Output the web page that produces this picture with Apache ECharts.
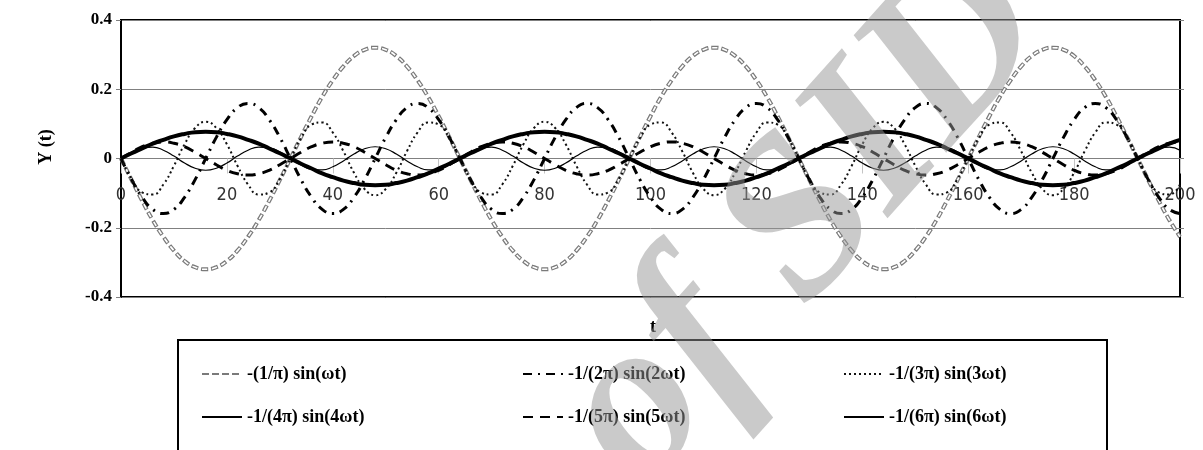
<!DOCTYPE html>
<html>
<head>
<meta charset="utf-8">
<script src="https://cdn.jsdelivr.net/npm/echarts@6/dist/echarts.min.js"></script>
<style>
html,body{margin:0;padding:0;background:#fff;}
#c{width:1203px;height:450px;}
</style>
</head>
<body>
<div id="c"></div>
<script>
// ---------- data ----------
const t = [
  0, 2, 4, 6, 8, 10, 12, 14, 16, 18, 20, 22, 24, 26, 28, 30,
  32, 34, 36, 38, 40, 42, 44, 46, 48, 50, 52, 54, 56, 58, 60, 62,
  64, 66, 68, 70, 72, 74, 76, 78, 80, 82, 84, 86, 88, 90, 92, 94,
  96, 98, 100, 102, 104, 106, 108, 110, 112, 114, 116, 118, 120, 122, 124, 126,
  128, 130, 132, 134, 136, 138, 140, 142, 144, 146, 148, 150, 152, 154, 156, 158,
  160, 162, 164, 166, 168, 170, 172, 174, 176, 178, 180, 182, 184, 186, 188, 190,
  192, 194, 196, 198, 200
];

// grey outlined dashes
const s1 = [
  0, -0.062, -0.122, -0.178, -0.226, -0.266, -0.296, -0.314, -0.32, -0.314, -0.296, -0.266, -0.226, -0.178, -0.122, -0.062,
  0, 0.062, 0.122, 0.178, 0.226, 0.266, 0.296, 0.314, 0.32, 0.314, 0.296, 0.266, 0.226, 0.178, 0.122, 0.062,
  0, -0.062, -0.122, -0.178, -0.226, -0.266, -0.296, -0.314, -0.32, -0.314, -0.296, -0.266, -0.226, -0.178, -0.122, -0.062,
  0, 0.062, 0.122, 0.178, 0.226, 0.266, 0.296, 0.314, 0.32, 0.314, 0.296, 0.266, 0.226, 0.178, 0.122, 0.062,
  0, -0.062, -0.122, -0.178, -0.226, -0.266, -0.296, -0.314, -0.32, -0.314, -0.296, -0.266, -0.226, -0.178, -0.122, -0.062,
  0, 0.062, 0.122, 0.178, 0.226, 0.266, 0.296, 0.314, 0.32, 0.314, 0.296, 0.266, 0.226, 0.178, 0.122, 0.062,
  0, -0.062, -0.122, -0.178, -0.226
];

// dash-dot
const s2 = [
  0, -0.061, -0.112, -0.147, -0.159, -0.147, -0.112, -0.061, 0, 0.061, 0.112, 0.147, 0.159, 0.147, 0.112, 0.061,
  0, -0.061, -0.112, -0.147, -0.159, -0.147, -0.112, -0.061, 0, 0.061, 0.112, 0.147, 0.159, 0.147, 0.112, 0.061,
  0, -0.061, -0.112, -0.147, -0.159, -0.147, -0.112, -0.061, 0, 0.061, 0.112, 0.147, 0.159, 0.147, 0.112, 0.061,
  0, -0.061, -0.112, -0.147, -0.159, -0.147, -0.112, -0.061, 0, 0.061, 0.112, 0.147, 0.159, 0.147, 0.112, 0.061,
  0, -0.061, -0.112, -0.147, -0.159, -0.147, -0.112, -0.061, 0, 0.061, 0.112, 0.147, 0.159, 0.147, 0.112, 0.061,
  0, -0.061, -0.112, -0.147, -0.159, -0.147, -0.112, -0.061, 0, 0.061, 0.112, 0.147, 0.159, 0.147, 0.112, 0.061,
  0, -0.061, -0.112, -0.147, -0.159
];

// dotted
const s3 = [
  0, -0.059, -0.098, -0.104, -0.075, -0.021, 0.041, 0.088, 0.106, 0.088, 0.041, -0.021, -0.075, -0.104, -0.098, -0.059,
  0, 0.059, 0.098, 0.104, 0.075, 0.021, -0.041, -0.088, -0.106, -0.088, -0.041, 0.021, 0.075, 0.104, 0.098, 0.059,
  0, -0.059, -0.098, -0.104, -0.075, -0.021, 0.041, 0.088, 0.106, 0.088, 0.041, -0.021, -0.075, -0.104, -0.098, -0.059,
  0, 0.059, 0.098, 0.104, 0.075, 0.021, -0.041, -0.088, -0.106, -0.088, -0.041, 0.021, 0.075, 0.104, 0.098, 0.059,
  0, -0.059, -0.098, -0.104, -0.075, -0.021, 0.041, 0.088, 0.106, 0.088, 0.041, -0.021, -0.075, -0.104, -0.098, -0.059,
  0, 0.059, 0.098, 0.104, 0.075, 0.021, -0.041, -0.088, -0.106, -0.088, -0.041, 0.021, 0.075, 0.104, 0.098, 0.059,
  0, -0.059, -0.098, -0.104, -0.075
];

// thick solid
const s4 = [
  0, 0.015, 0.029, 0.043, 0.054, 0.064, 0.071, 0.076, 0.077, 0.076, 0.071, 0.064, 0.054, 0.043, 0.029, 0.015,
  0, -0.015, -0.029, -0.043, -0.054, -0.064, -0.071, -0.076, -0.077, -0.076, -0.071, -0.064, -0.054, -0.043, -0.029, -0.015,
  0, 0.015, 0.029, 0.043, 0.054, 0.064, 0.071, 0.076, 0.077, 0.076, 0.071, 0.064, 0.054, 0.043, 0.029, 0.015,
  0, -0.015, -0.029, -0.043, -0.054, -0.064, -0.071, -0.076, -0.077, -0.076, -0.071, -0.064, -0.054, -0.043, -0.029, -0.015,
  0, 0.015, 0.029, 0.043, 0.054, 0.064, 0.071, 0.076, 0.077, 0.076, 0.071, 0.064, 0.054, 0.043, 0.029, 0.015,
  0, -0.015, -0.029, -0.043, -0.054, -0.064, -0.071, -0.076, -0.077, -0.076, -0.071, -0.064, -0.054, -0.043, -0.029, -0.015,
  0, 0.015, 0.029, 0.043, 0.054
];

// medium dashes
const s5 = [
  0, 0.018, 0.034, 0.044, 0.048, 0.044, 0.034, 0.018, 0, -0.018, -0.034, -0.044, -0.048, -0.044, -0.034, -0.018,
  0, 0.018, 0.034, 0.044, 0.048, 0.044, 0.034, 0.018, 0, -0.018, -0.034, -0.044, -0.048, -0.044, -0.034, -0.018,
  0, 0.018, 0.034, 0.044, 0.048, 0.044, 0.034, 0.018, 0, -0.018, -0.034, -0.044, -0.048, -0.044, -0.034, -0.018,
  0, 0.018, 0.034, 0.044, 0.048, 0.044, 0.034, 0.018, 0, -0.018, -0.034, -0.044, -0.048, -0.044, -0.034, -0.018,
  0, 0.018, 0.034, 0.044, 0.048, 0.044, 0.034, 0.018, 0, -0.018, -0.034, -0.044, -0.048, -0.044, -0.034, -0.018,
  0, 0.018, 0.034, 0.044, 0.048, 0.044, 0.034, 0.018, 0, -0.018, -0.034, -0.044, -0.048, -0.044, -0.034, -0.018,
  0, 0.018, 0.034, 0.044, 0.048
];

// thin solid
const s6 = [
  0, 0.019, 0.031, 0.033, 0.024, 0.007, -0.013, -0.028, -0.034, -0.028, -0.013, 0.007, 0.024, 0.033, 0.031, 0.019,
  0, -0.019, -0.031, -0.033, -0.024, -0.007, 0.013, 0.028, 0.034, 0.028, 0.013, -0.007, -0.024, -0.033, -0.031, -0.019,
  0, 0.019, 0.031, 0.033, 0.024, 0.007, -0.013, -0.028, -0.034, -0.028, -0.013, 0.007, 0.024, 0.033, 0.031, 0.019,
  0, -0.019, -0.031, -0.033, -0.024, -0.007, 0.013, 0.028, 0.034, 0.028, 0.013, -0.007, -0.024, -0.033, -0.031, -0.019,
  0, 0.019, 0.031, 0.033, 0.024, 0.007, -0.013, -0.028, -0.034, -0.028, -0.013, 0.007, 0.024, 0.033, 0.031, 0.019,
  0, -0.019, -0.031, -0.033, -0.024, -0.007, 0.013, 0.028, 0.034, 0.028, 0.013, -0.007, -0.024, -0.033, -0.031, -0.019,
  0, 0.019, 0.031, 0.033, 0.024
];

const seriesNames = [
  '-(1/π) sin(ωt)',
  '-1/(2π) sin(2ωt)',
  '-1/(3π) sin(3ωt)',
  '-1/(4π) sin(4ωt)',
  '-1/(5π) sin(5ωt)',
  '-1/(6π) sin(6ωt)'
];

const xTicks = [0, 20, 40, 60, 80, 100, 120, 140, 160, 180, 200];
const yTicks = [-0.4, -0.2, 0, 0.2, 0.4];
const xTitle = 't';
const yTitle = 'Y (t)';
const watermark = 'of SID';

// ---------- chart ----------
const chart = echarts.init(document.getElementById('c'), null, {renderer: 'canvas'});
const pairs = vals => t.map((x, i) => [x, vals[i]]);
const SERIF = '"Liberation Serif", "Times New Roman", serif';

const xMin = xTicks[0], xMax = xTicks[xTicks.length - 1], xStep = xTicks[1] - xTicks[0];
const yMin = yTicks[0], yMax = yTicks[yTicks.length - 1], yStep = yTicks[1] - yTicks[0];

// plot area in pixels
const PL = 121, PR = 23, PT = 20, PB = 153;
const plotH = 450 - PT - PB;
const zeroY = PT + plotH * (yMax / (yMax - yMin));   // pixel row of y = 0

function lineSeries(name, vals, color, width, type, extra) {
  return Object.assign({
    name: name,
    type: 'line',
    xAxisIndex: 0, yAxisIndex: 0,
    data: pairs(vals),
    symbol: 'none',
    smooth: true,
    animation: false,
    itemStyle: {color: color},
    lineStyle: {color: color, width: width, type: type, cap: 'butt'},
    emphasis: {disabled: true}
  }, extra || {});
}

const legendText = {fontFamily: SERIF, fontWeight: 'bold', fontSize: 18, color: '#000', lineHeight: 18};
function legendCol(left, names) {
  return {
    orient: 'vertical', left: left, top: 365, itemGap: 25,
    itemWidth: 40, itemHeight: 14, selectedMode: false,
    itemStyle: {opacity: 0},
    data: names, textStyle: legendText, padding: 0
  };
}

const option = {
  backgroundColor: '#fff',
  animation: false,
  grid: [
    {left: PL, top: PT, right: PR, bottom: PB, show: true, borderColor: '#000', borderWidth: 2, backgroundColor: 'transparent'},
    // helper grid whose bottom edge sits on y = 0, carrying the t axis
    {left: PL, top: PT, right: PR, bottom: 450 - zeroY, show: false}
  ],
  xAxis: [{
    gridIndex: 0, type: 'value', min: xMin, max: xMax, interval: xStep, show: false
  }, {
    gridIndex: 1, type: 'value', min: xMin, max: xMax, interval: xStep, position: 'bottom',
    axisLine: {show: true, onZero: false, lineStyle: {color: '#808080', width: 1}},
    axisTick: {show: true, inside: false, length: 15, lineStyle: {color: '#c4c4c4'}},
    axisLabel: {fontFamily: '"DejaVu Sans Condensed", "DejaVu Sans", sans-serif', fontSize: 18, color: '#333', margin: 28, showMinLabel: true, showMaxLabel: true},
    splitLine: {show: false}
  }],
  yAxis: [{
    gridIndex: 0, type: 'value', min: yMin, max: yMax, interval: yStep,
    axisLine: {show: true, lineStyle: {color: '#000', width: 2}},
    axisTick: {show: true, inside: false, length: 5, lineStyle: {color: '#808080'}},
    axisLabel: {fontFamily: SERIF, fontWeight: 'bold', fontSize: 17, color: '#000', margin: 9,
      formatter: v => String(Math.round(v * 10) / 10)},
    splitLine: {show: true, lineStyle: {color: '#808080', width: 1}}
  }, {
    gridIndex: 0, type: 'value', position: 'right', min: yMin, max: yMax, interval: yStep,
    axisLine: {show: false},
    axisTick: {show: true, inside: false, length: 4, lineStyle: {color: '#808080'}},
    axisLabel: {show: false},
    splitLine: {show: false}
  }, {
    gridIndex: 1, type: 'value', min: 0, max: yMax, show: false
  }],
  legend: [
    legendCol(201, [seriesNames[0], seriesNames[3]]),
    legendCol(522, [seriesNames[1], seriesNames[4]]),
    legendCol(843, [seriesNames[2], seriesNames[5]])
  ],
  series: [
    lineSeries(seriesNames[0], s1, '#7a7a7a', 4, [7, 3], {z: 2}),
    lineSeries('inner', s1, '#ffffff', 1.6, [5, 5], {z: 3, silent: true, lineStyle: {color: '#ffffff', width: 1.6, type: [5, 5], dashOffset: -1}}),
    lineSeries(seriesNames[1], s2, '#000', 3, [9, 6, 2, 6], {z: 4}),
    lineSeries(seriesNames[2], s3, '#111', 2, [2, 3], {z: 4}),
    lineSeries(seriesNames[3], s4, '#000', 4, 'solid', {z: 5}),
    lineSeries(seriesNames[4], s5, '#000', 3, [10, 7], {z: 4}),
    lineSeries(seriesNames[5], s6, '#000', 1.2, 'solid', {z: 5})
  ],
  graphic: [
    {type: 'rect', z: 0, shape: {x: 178, y: 340, width: 929, height: 200},
      style: {fill: 'none', stroke: '#000', lineWidth: 2}},
    {type: 'text', x: 46, y: 147, rotation: Math.PI / 2,
      style: {text: yTitle, font: 'bold 18px ' + SERIF, fill: '#000', align: 'center', verticalAlign: 'middle'}},
    {type: 'text', x: 653, y: 327,
      style: {text: xTitle, font: 'bold 18px ' + SERIF, fill: '#000', align: 'center', verticalAlign: 'middle'}},
    {type: 'text', x: 806, y: 222, rotation: 0.84, z: 100, silent: true,
      style: {text: watermark, font: 'italic bold 225px ' + SERIF, fill: 'rgba(150,150,150,0.5)', align: 'center', verticalAlign: 'middle'}}
  ]
};
chart.setOption(option);
</script>
</body>
</html>
